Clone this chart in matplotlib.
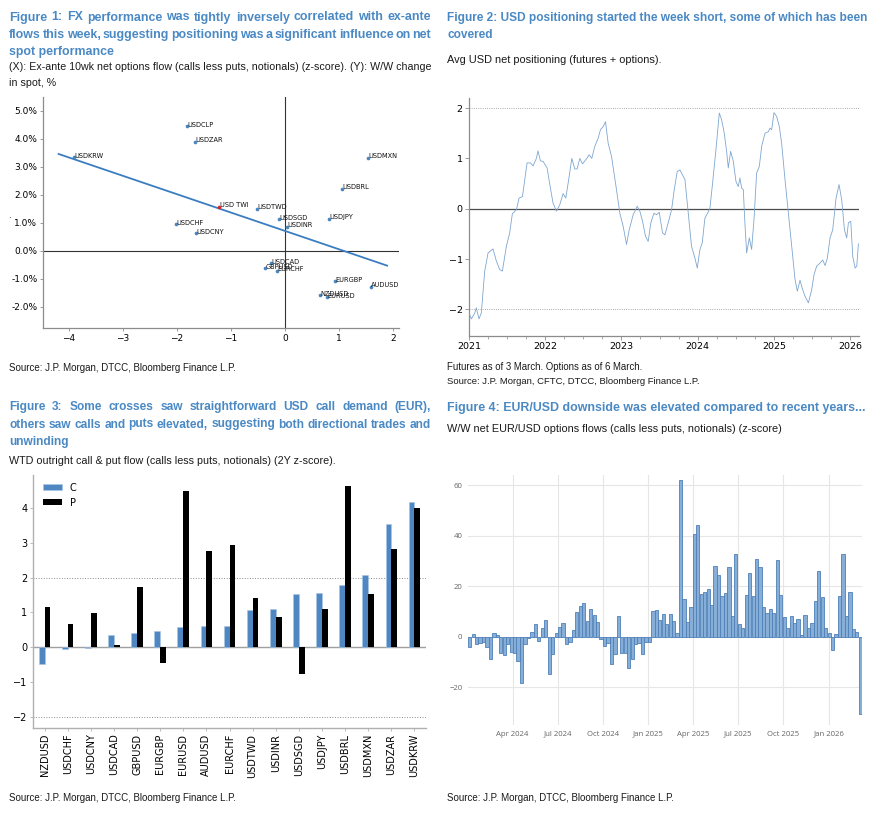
import numpy as np
import pandas as pd
import matplotlib
matplotlib.use('Agg')
import matplotlib.pyplot as plt
from matplotlib.ticker import FuncFormatter, MultipleLocator, FixedLocator

# ---------------- data ----------------
# Figure 1: scatter (x: z-score, y: % change)
fx_pairs = ['USDKRW', 'USDCLP', 'USDZAR', 'USDCHF', 'USDCNY', 'USDMXN', 'USDBRL',
            'USDTWD', 'USDSGD', 'USDINR', 'USDJPY', 'USDCAD', 'GBPUSD', 'EURCHF',
            'EURGBP', 'AUDUSD', 'NZDUSD', 'EURUSD']
fx_flow = [-3.91, -1.82, -1.67, -2.02, -1.65, 1.54, 1.06, -0.52, -0.11, 0.04, 0.81,
           -0.26, -0.37, -0.14, 0.93, 1.59, 0.64, 0.77]
fx_spot = [3.35, 4.47, 3.90, 0.97, 0.64, 3.33, 2.23, 1.51, 1.13, 0.87, 1.15,
           -0.43, -0.61, -0.70, -1.07, -1.27, -1.58, -1.65]
twi_label = 'USD TWI'
twi_flow = -1.22
twi_spot = 1.58

# Figure 2: Avg USD net positioning (decimal year, z)
pos_t = [2021.000, 2021.031, 2021.074, 2021.096, 2021.131, 2021.162, 2021.206, 2021.250,
         2021.315, 2021.359, 2021.403, 2021.438, 2021.490, 2021.534, 2021.569, 2021.622,
         2021.657, 2021.701, 2021.762, 2021.806, 2021.841, 2021.884, 2021.906, 2021.937,
         2021.972, 2022.025, 2022.068, 2022.103, 2022.147, 2022.191, 2022.235, 2022.270,
         2022.313, 2022.349, 2022.388, 2022.419, 2022.454, 2022.489, 2022.541, 2022.576,
         2022.611, 2022.651, 2022.694, 2022.725, 2022.760, 2022.791, 2022.826, 2022.870,
         2022.900, 2022.935, 2022.979, 2023.023, 2023.067, 2023.102, 2023.154, 2023.207,
         2023.242, 2023.277, 2023.316, 2023.351, 2023.386, 2023.426, 2023.461, 2023.496,
         2023.539, 2023.570, 2023.614, 2023.658, 2023.693, 2023.732, 2023.767, 2023.802,
         2023.833, 2023.877, 2023.920, 2023.964, 2023.995, 2024.030, 2024.060, 2024.095,
         2024.130, 2024.161, 2024.196, 2024.240, 2024.284, 2024.314, 2024.349, 2024.380,
         2024.402, 2024.433, 2024.468, 2024.503, 2024.533, 2024.555, 2024.577, 2024.599,
         2024.621, 2024.643, 2024.678, 2024.708, 2024.739, 2024.774, 2024.809, 2024.840,
         2024.884, 2024.927, 2024.949, 2024.971, 2025.002, 2025.037, 2025.072, 2025.102,
         2025.146, 2025.190, 2025.221, 2025.256, 2025.278, 2025.308, 2025.343, 2025.378,
         2025.409, 2025.453, 2025.496, 2025.527, 2025.562, 2025.606, 2025.641, 2025.672,
         2025.702, 2025.737, 2025.772, 2025.816, 2025.855, 2025.890, 2025.926, 2025.956,
         2025.978, 2026.009, 2026.035, 2026.066, 2026.088, 2026.109]
pos_z = [-2.07, -2.19, -2.08, -1.97, -2.19, -2.07, -1.24, -0.88, -0.80, -1.04, -1.21, -1.24,
         -0.75, -0.48, -0.10, -0.02, 0.21, 0.24, 0.91, 0.91, 0.85, 1.00, 1.15, 0.95,
         0.94, 0.81, 0.41, 0.11, -0.05, 0.08, 0.30, 0.21, 0.63, 1.00, 0.79, 0.79,
         1.00, 0.89, 0.99, 1.07, 1.00, 1.24, 1.40, 1.57, 1.63, 1.73, 1.30, 1.04,
         0.74, 0.38, -0.09, -0.35, -0.71, -0.42, -0.12, 0.05, -0.05, -0.25, -0.55, -0.65,
         -0.28, -0.09, -0.12, -0.07, -0.48, -0.52, -0.28, -0.02, 0.38, 0.74, 0.77, 0.67,
         0.58, -0.09, -0.75, -0.98, -1.18, -0.81, -0.68, -0.19, -0.09, 0.01, 0.51, 1.17,
         1.90, 1.77, 1.50, 1.14, 0.81, 1.14, 0.94, 0.54, 0.44, 0.61, 0.41, 0.38,
         -0.32, -0.88, -0.58, -0.81, -0.22, 0.71, 0.84, 1.24, 1.50, 1.53, 1.60, 1.57,
         1.91, 1.83, 1.63, 1.30, 0.58, -0.09, -0.55, -1.08, -1.41, -1.64, -1.42, -1.61,
         -1.74, -1.87, -1.61, -1.31, -1.14, -1.08, -1.02, -1.13, -0.98, -0.58, -0.42, 0.21,
         0.48, 0.18, -0.42, -0.58, -0.28, -0.25, -0.95, -1.18, -1.14, -0.70]
pos_years = [2021, 2022, 2023, 2024, 2025, 2026]

# Figure 3: call & put flow z-scores
crosses = ['NZDUSD', 'USDCHF', 'USDCNY', 'USDCAD', 'GBPUSD', 'EURGBP', 'EURUSD', 'AUDUSD',
           'EURCHF', 'USDTWD', 'USDINR', 'USDSGD', 'USDJPY', 'USDBRL', 'USDMXN', 'USDZAR',
           'USDKRW']
calls_z = [-0.48, -0.06, -0.03, 0.36, 0.40, 0.45, 0.59, 0.61, 0.61, 1.06, 1.09, 1.53,
           1.55, 1.79, 2.06, 3.55, 4.18]
puts_z = [1.14, 0.66, 0.98, 0.05, 1.73, -0.46, 4.50, 2.76, 2.94, 1.41, 0.86, -0.77,
          1.09, 4.64, 1.54, 2.81, 3.99]

# Figure 4: weekly EUR/USD net options flow z-score
eur_start = '2024-01-05'
eur_flow = [-4.2, 0.9, -2.9, -2.6, -2.0, -4.2, -8.8, 1.3, 0.7, -6.3, -7.3, -3.0,
            -6.0, -6.6, -9.5, -18.2, -2.9, -0.5, 1.8, 4.9, -1.6, 3.6, 6.6, -14.9,
            -7.0, 1.3, 4.0, 5.5, -2.8, -2.0, 2.6, 9.9, 12.1, 13.2, 6.2, 11.0,
            8.6, 5.9, -1.0, -3.7, -2.6, -11.0, -7.0, 8.2, -6.3, -6.3, -12.3, -9.0,
            -3.0, -2.4, -7.0, -2.0, -2.0, 10.1, 10.5, 6.6, 8.8, 4.9, 8.8, 6.2,
            1.3, 62.0, 14.8, 5.7, 11.7, 40.8, 44.2, 16.9, 17.7, 19.0, 12.5, 27.9,
            24.3, 16.2, 17.2, 27.6, 8.2, 32.7, 4.8, 3.3, 16.5, 25.3, 16.2, 30.6,
            27.7, 11.7, 9.5, 11.0, 9.4, 30.2, 16.4, 7.8, 3.4, 8.2, 5.3, 7.0,
            0.7, 8.7, 3.4, 5.4, 14.3, 25.9, 15.7, 3.4, 1.3, -5.3, 0.9, 16.1,
            32.6, 8.2, 17.7, 3.0, 2.0, -30.8]
eur_tick_dates = ['2024-04-01', '2024-07-01', '2024-10-01', '2025-01-01',
                  '2025-04-01', '2025-07-01', '2025-10-01', '2026-01-01']

# ---------------- figure ----------------
W, H = 882, 815
fig = plt.figure(figsize=(W / 100, H / 100), dpi=100)
renderer = fig.canvas.get_renderer()

TITLE_C = '#4a89c4'
BOLD = ['Liberation Sans', 'DejaVu Sans']
NARROW = ['Liberation Sans Narrow', 'Liberation Sans', 'DejaVu Sans']
TXT_C = '#1a1a1a'


def px_axes(l, t, r, b):
    return fig.add_axes([l / W, 1 - b / H, (r - l) / W, (b - t) / H])


def ftext(x, y, s, **kw):
    kw.setdefault('va', 'center')
    kw.setdefault('ha', 'left')
    return fig.text(x / W, 1 - y / H, s, **kw)


def text_w(t):
    return t.get_window_extent(renderer).width


def fitted(x, y, s, width, **kw):
    t = ftext(x, y, s, **kw)
    t.set_fontsize(t.get_fontsize() * width / text_w(t))
    return t


def justified(lines, x0, x1, y0, dy, scale=1.0, **kw):
    # choose a font size so the tightest line fills the width, then spread words
    base = kw.pop('fontsize', 9)
    ratios = []
    for line in lines[:-1]:
        t = ftext(x0, y0, line, fontsize=base, **kw)
        ratios.append((x1 - x0) / text_w(t))
        t.remove()
    size = base * min(ratios) * 0.995 * scale
    for i, line in enumerate(lines):
        y = y0 + i * dy
        if i == len(lines) - 1:
            ftext(x0, y, line, fontsize=size, **kw)
            continue
        words = line.split(' ')
        ts = [ftext(x0, y, w, fontsize=size, **kw) for w in words]
        widths = [text_w(t) for t in ts]
        gap = (x1 - x0 - sum(widths)) / (len(words) - 1)
        x = x0
        for t, w in zip(ts, widths):
            t.set_x(x / W)
            x += w + gap
    return size


tkw = dict(color=TITLE_C, fontweight='bold', family=BOLD, fontsize=9)
skw = dict(color=TXT_C, family=NARROW, fontsize=8)
srckw = dict(color=TXT_C, family=NARROW, fontsize=7)

# ---- Titles / subtitles / sources ----
justified(['Figure 1: FX performance was tightly inversely correlated with ex-ante',
           'flows this week, suggesting positioning was a significant influence on net',
           'spot performance'], 9, 431, 17.5, 17.4, scale=1.04, **tkw)
s1 = fitted(9, 67, '(X): Ex-ante 10wk net options flow (calls less puts, notionals) (z-score). (Y): W/W change',
            421, **skw)
ftext(9, 83, 'in spot, %', color=TXT_C, family=NARROW, fontsize=s1.get_fontsize())
fitted(9, 368, 'Source: J.P. Morgan, DTCC, Bloomberg Finance L.P.', 229, **srckw)

t2 = fitted(447, 18, 'Figure 2: USD positioning started the week short, some of which has been', 421,
            color=TITLE_C, fontweight='bold', family=NARROW, fontsize=9.5)
ftext(447, 34.5, 'covered', color=TITLE_C, fontweight='bold', family=NARROW,
      fontsize=t2.get_fontsize())
fitted(447, 60, 'Avg USD net positioning (futures + options).', 215, **skw)
fitted(447, 367, 'Futures as of 3 March. Options as of 6 March.', 196, **srckw)
fitted(447, 381, 'Source: J.P. Morgan, CFTC, DTCC, Bloomberg Finance L.P.', 252, **srckw)

justified(['Figure 3: Some crosses saw straightforward USD call demand (EUR),',
           'others saw calls and puts elevated, suggesting both directional trades and',
           'unwinding'], 9, 431, 407, 17.5, **tkw)
fitted(9, 461, 'WTD outright call & put flow (calls less puts, notionals) (2Y z-score).', 324, **skw)
fitted(9, 798, 'Source: J.P. Morgan, DTCC, Bloomberg Finance L.P.', 229, **srckw)

fitted(447, 408, 'Figure 4: EUR/USD downside was elevated compared to recent years...', 416, **tkw)
fitted(447, 429, 'W/W net EUR/USD options flows (calls less puts, notionals) (z-score)', 336, **skw)
fitted(447, 798, 'Source: J.P. Morgan, DTCC, Bloomberg Finance L.P.', 229, **srckw)

# ---- Figure 1 ----
ax1 = px_axes(43, 97, 399, 328)
PT_C = '#4a86c0'
ax1.axhline(0, color='#333333', lw=0.8, zorder=1)
ax1.axvline(0, color='#333333', lw=0.8, zorder=1)
fx_flow_a = np.array(fx_flow)
fx_spot_a = np.array(fx_spot)
slope, icpt = np.polyfit(fx_flow_a, fx_spot_a, 1)
xx = np.array([fx_flow_a.min() - 0.28, fx_flow_a.max() + 0.3])
ax1.plot(xx, slope * xx + icpt, color='#3b7dc0', lw=1.3, zorder=2)
ax1.scatter(fx_flow, fx_spot, s=7, color=PT_C, zorder=3, linewidths=0)
ax1.scatter([twi_flow], [twi_spot], s=7, color='#d62728', zorder=3, linewidths=0)
for lab, x, y in zip(fx_pairs + [twi_label], fx_flow + [twi_flow], fx_spot + [twi_spot]):
    ax1.annotate(lab, (x, y), xytext=(0.3, -1.2), textcoords='offset points',
                 fontsize=4.8, va='bottom', ha='left', color='#111111', zorder=4)
ax1.set_xlim(-4.48, 2.11)
ax1.set_ylim(-2.75, 5.5)
ax1.yaxis.set_major_locator(FixedLocator([-2, -1, 0, 1, 2, 3, 4, 5]))
ax1.yaxis.set_major_formatter(FuncFormatter(lambda v, p: f'{v:.1f}%'))
ax1.xaxis.set_major_locator(FixedLocator([-4, -3, -2, -1, 0, 1, 2]))
for s in ['top', 'right']:
    ax1.spines[s].set_visible(False)
for s in ['left', 'bottom']:
    ax1.spines[s].set_color('#8c8c8c')
    ax1.spines[s].set_linewidth(0.9)
ax1.tick_params(labelsize=6.5, length=2.5, width=0.6, color='#8c8c8c', pad=1.5)
ftext(8, 216, '.', fontsize=6)

# ---- Figure 2 ----
ax2 = px_axes(469, 98, 859, 336)
ax2.plot(pos_t, pos_z, color='#7ea6d0', lw=0.6, zorder=3)
ax2.axhline(0, color='#4d4d4d', lw=0.9, zorder=2)
ax2.axhline(2, color='#8c8c8c', lw=0.6, ls=':', zorder=2)
ax2.axhline(-2, color='#8c8c8c', lw=0.6, ls=':', zorder=2)
ax2.set_xlim(2021, 2026.117)
ax2.set_ylim(-2.53, 2.2)
ax2.xaxis.set_major_locator(FixedLocator(pos_years))
ax2.xaxis.set_major_formatter(FuncFormatter(lambda v, p: f'{int(round(v))}'))
ax2.xaxis.set_minor_locator(MultipleLocator(0.25))
ax2.yaxis.set_major_locator(FixedLocator([-2, -1, 0, 1, 2]))
for s in ['top', 'right']:
    ax2.spines[s].set_visible(False)
for s in ['left', 'bottom']:
    ax2.spines[s].set_color('#8c8c8c')
    ax2.spines[s].set_linewidth(0.9)
ax2.tick_params(labelsize=6.8, length=3, width=0.6, color='#8c8c8c', pad=1.5)
ax2.tick_params(which='minor', length=2, width=0.5, color='#8c8c8c')

# ---- Figure 3 ----
ax3 = px_axes(33, 475, 426, 728)
idx = np.arange(len(crosses))
ax3.axhline(0, color='#a0a0a0', lw=1.0, zorder=1)
ax3.axhline(2, color='#8c8c8c', lw=0.7, ls=':', zorder=1)
ax3.axhline(-2, color='#8c8c8c', lw=0.7, ls=':', zorder=1)
ax3.bar(idx - 0.125, calls_z, width=0.25, color='#4f87c2', edgecolor='#a9c6e4',
        linewidth=0.4, label='C', zorder=2)
ax3.bar(idx + 0.125, puts_z, width=0.25, color='#000000', label='P', zorder=2)
ax3.set_xlim(-0.5, len(crosses) - 0.5)
ax3.set_ylim(-2.33, 4.95)
ax3.set_xticks(idx)
ax3.set_xticklabels(crosses, rotation=90)
ax3.yaxis.set_major_locator(FixedLocator([-2, -1, 0, 1, 2, 3, 4]))
for s in ['top', 'right']:
    ax3.spines[s].set_visible(False)
for s in ['left', 'bottom']:
    ax3.spines[s].set_color('#b0b0b0')
    ax3.spines[s].set_linewidth(1.0)
ax3.tick_params(labelsize=7, length=2.5, width=0.6, color='#b0b0b0', pad=1.5)
ax3.legend(loc='upper left', bbox_to_anchor=(0.0, 1.008), frameon=False, fontsize=7,
           handlelength=2.0, handleheight=0.6, handletextpad=0.8, labelspacing=0.5,
           borderaxespad=0.6)

# ---- Figure 4 ----
ax4 = px_axes(468, 475, 862, 725)
eur_dates = pd.date_range(eur_start, periods=len(eur_flow), freq='7D')
ax4.bar(eur_dates, eur_flow, width=6.6, color='#87aed6', edgecolor='#4f80b8',
        linewidth=0.6, zorder=3)
ax4.set_xlim(eur_dates[0] - pd.Timedelta(days=3.5), eur_dates[-1] + pd.Timedelta(days=3.5))
ax4.set_ylim(-35, 64)
ax4.yaxis.set_major_locator(FixedLocator([-20, 0, 20, 40, 60]))
ax4.yaxis.set_major_formatter(FuncFormatter(lambda v, p: f'{int(v)}'.replace('-', '\u2212')))
tick_d = pd.to_datetime(eur_tick_dates)
ax4.set_xticks(tick_d)
ax4.set_xticklabels([d.strftime('%b %Y') for d in tick_d])
ax4.grid(True, color='#e6e6e6', lw=0.8, zorder=0)
for s in ax4.spines.values():
    s.set_visible(False)
ax4.tick_params(length=0, labelsize=5.6, labelcolor='#666666', pad=4)
for lab in ax4.get_xticklabels() + ax4.get_yticklabels():
    lab.set_family(['Open Sans', 'DejaVu Sans'])

fig.savefig('out.png', dpi=100)
